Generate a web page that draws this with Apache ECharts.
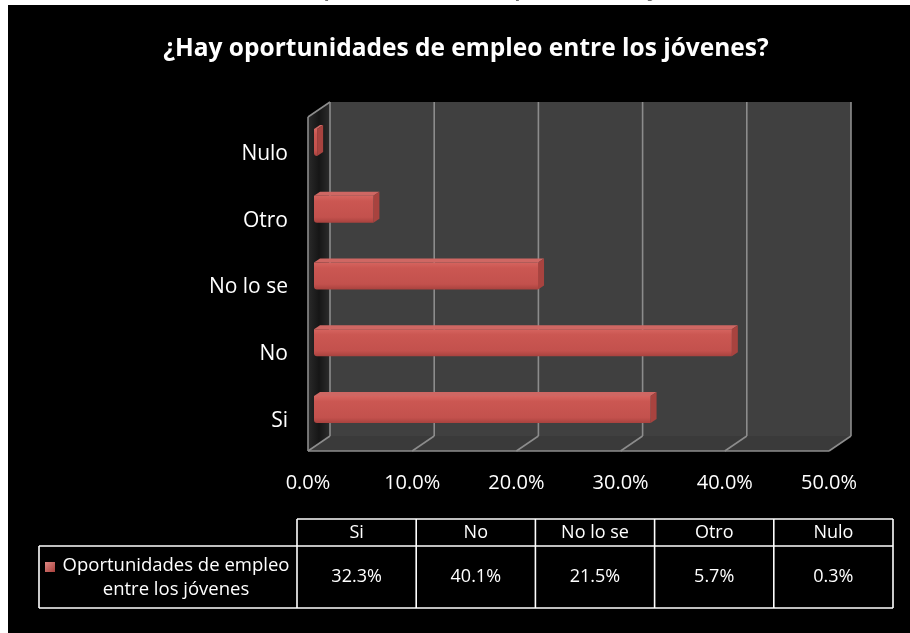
<!DOCTYPE html>
<html>
<head>
<meta charset="utf-8">
<script src="https://cdn.jsdelivr.net/npm/echarts@6/dist/echarts.min.js"></script>
<style>
  html, body { margin: 0; padding: 0; background: #ffffff; }
  #chart { width: 910px; height: 633px; }
</style>
</head>
<body>
<div id="chart"></div>
<script>
// Survey answers and their shares (percent)
const categories = ['Si', 'No', 'No lo se', 'Otro', 'Nulo'];
const values = [32.3, 40.1, 21.5, 5.7, 0.3];
const xTicks = [0, 10, 20, 30, 40, 50];
const seriesName = 'Oportunidades de empleo entre los jóvenes';
const seriesNameLines = ['Oportunidades de empleo', 'entre los jóvenes'];
const titleText = '¿Hay oportunidades de empleo entre los jóvenes?';
const captionText = 'Gráfica 4. Oportunidades de empleo entre los jóvenes';

const FONT = '"Open Sans", "DejaVu Sans", sans-serif';
const pct = v => v.toFixed(1) + '%';

// 3D look: offset of the back wall, of the bar front faces and of the bar depth
const BACK = [22, -15];
const BAR_OFF = [6, -8];
const BAR_H = 27;
const BAR_D = [6, -4];
const GRID_COLOR = '#8c8c8c';

function renderFrame(params, api) {
  const cs = params.coordSys;
  const x0 = api.coord([xTicks[0], 0])[0];
  const x1 = api.coord([xTicks[xTicks.length - 1], 0])[0];
  const yTop = cs.y, yBot = cs.y + cs.height;
  const bx = BACK[0], by = BACK[1];
  const children = [];
  // back wall
  children.push({
    type: 'polygon',
    shape: { points: [[x0 + bx, yTop + by], [x1 + bx, yTop + by], [x1 + bx, yBot + by], [x0 + bx, yBot + by]] },
    style: { fill: '#404040' }
  });
  // floor
  children.push({
    type: 'polygon',
    shape: { points: [[x0, yBot], [x1, yBot], [x1 + bx, yBot + by], [x0 + bx, yBot + by]] },
    style: { fill: '#3a3a3a' }
  });
  // left side wall
  children.push({
    type: 'polygon',
    shape: { points: [[x0, yTop], [x0 + bx, yTop + by], [x0 + bx, yBot + by], [x0, yBot]] },
    style: {
      fill: new echarts.graphic.LinearGradient(0, 0, 1, 0, [
        { offset: 0, color: '#2a2a2a' },
        { offset: 0.5, color: '#161616' },
        { offset: 1, color: '#2c2c2c' }
      ])
    }
  });
  const line = (a, b) => ({
    type: 'line',
    shape: { x1: a[0], y1: a[1], x2: b[0], y2: b[1] },
    style: { stroke: GRID_COLOR, lineWidth: 1.6 }
  });
  xTicks.forEach(t => {
    const x = api.coord([t, 0])[0];
    children.push(line([x + bx, yTop + by], [x + bx, yBot + by]));
    children.push(line([x, yBot], [x + bx, yBot + by]));
  });
  children.push(line([x0, yBot], [x1, yBot]));
  children.push(line([x0, yTop], [x0, yBot]));
  children.push(line([x0, yTop], [x0 + bx, yTop + by]));
  return { type: 'group', children: children };
}

function renderBar(params, api) {
  const idx = api.value(1);
  const p0 = api.coord([0, idx]);
  const p1 = api.coord([api.value(0), idx]);
  const xa = p0[0] + BAR_OFF[0];
  const xb = p1[0] + BAR_OFF[0];
  const yc = p0[1] + BAR_OFF[1];
  const yt = yc - BAR_H / 2, yb = yc + BAR_H / 2;
  const dx = BAR_D[0], dy = BAR_D[1];
  return {
    type: 'group',
    children: [
      {
        type: 'polygon',
        shape: { points: [[xa, yt], [xb, yt], [xb + dx, yt + dy], [xa + dx, yt + dy]] },
        style: { fill: '#cf6763' }
      },
      {
        type: 'polygon',
        shape: { points: [[xb, yt], [xb + dx, yt + dy], [xb + dx, yb + dy], [xb, yb]] },
        style: { fill: '#a8433f' }
      },
      {
        type: 'rect',
        shape: { x: xa, y: yt, width: Math.max(xb - xa, 0.5), height: BAR_H, r: [0, 0, 0, 3] },
        style: {
          fill: new echarts.graphic.LinearGradient(0, 0, 0, 1, [
            { offset: 0, color: '#d6645f' },
            { offset: 0.2, color: '#cb5752' },
            { offset: 0.8, color: '#c3514d' },
            { offset: 1, color: '#a8423e' }
          ])
        }
      }
    ]
  };
}

// Data table under the chart
function buildTable() {
  const left = 39, colStart = 297, colW = 119.2;
  const top = 519, mid = 546, bottom = 608;
  const right = colStart + colW * categories.length;
  const stroke = { stroke: '#ffffff', lineWidth: 1.6 };
  const els = [];
  const hline = (xa, xb, y) => els.push({ type: 'line', shape: { x1: xa, y1: y, x2: xb, y2: y }, style: stroke, z: 10 });
  const vline = (x, ya, yb) => els.push({ type: 'line', shape: { x1: x, y1: ya, x2: x, y2: yb }, style: stroke, z: 10 });
  hline(colStart, right, top);
  hline(left, right, mid);
  hline(left, right, bottom);
  vline(left, mid, bottom);
  for (let i = 0; i <= categories.length; i++) vline(colStart + colW * i, top, bottom);
  categories.forEach((c, i) => {
    const cx = colStart + colW * (i + 0.5);
    els.push({ type: 'text', x: cx, y: (top + mid) / 2, z: 10,
      style: { text: c, fill: '#fff', font: '18px ' + FONT, align: 'center', verticalAlign: 'middle' } });
    els.push({ type: 'text', x: cx, y: (mid + bottom) / 2, z: 10,
      style: { text: pct(values[i]), fill: '#fff', font: '18px ' + FONT, align: 'center', verticalAlign: 'middle' } });
  });
  // legend key
  els.push({ type: 'rect', shape: { x: 45, y: 562, width: 10, height: 10 }, z: 10,
    style: { fill: new echarts.graphic.LinearGradient(0, 0, 1, 1, [
      { offset: 0, color: '#e08985' }, { offset: 1, color: '#a8403c' }]) } });
  seriesNameLines.forEach((t, i) => {
    els.push({ type: 'text', x: 176, y: 566 + i * 24, z: 10,
      style: { text: t, fill: '#fff', font: '18.5px ' + FONT, align: 'center', verticalAlign: 'middle' } });
  });
  return els;
}

const chart = echarts.init(document.getElementById('chart'), null, { renderer: 'canvas' });
chart.setOption({
  backgroundColor: '#ffffff',
  animation: false,
  graphic: [
    { type: 'text', x: 468, y: -19, z: -20,
      style: { text: captionText, fill: '#6e6e6e', font: 'bold 19px ' + FONT, align: 'center', verticalAlign: 'top' } },
    { type: 'rect', shape: { x: 8, y: 5, width: 902, height: 628 }, z: -10, style: { fill: '#000000' } },
    { type: 'text', x: 466, y: 49, z: 10,
      style: { text: titleText, fill: '#ffffff', font: 'bold 24.5px ' + FONT, align: 'center', verticalAlign: 'middle' } }
  ].concat(buildTable()),
  grid: { left: 308, right: 81, top: 117, bottom: 182 },
  xAxis: {
    type: 'value', min: 0, max: 50, interval: 10,
    axisLine: { show: false }, axisTick: { show: false }, splitLine: { show: false },
    axisLabel: { color: '#ffffff', fontSize: 20, fontFamily: FONT, margin: 22, formatter: v => pct(v) }
  },
  yAxis: {
    type: 'category', data: categories,
    axisLine: { show: false }, axisTick: { show: false }, splitLine: { show: false },
    axisLabel: {
      margin: 20,
      formatter: v => '{c|' + v + '}',
      rich: { c: { color: '#ffffff', fontSize: 21, fontFamily: FONT, padding: [7, 0, 0, 0] } }
    }
  },
  series: [
    { type: 'custom', name: 'frame', renderItem: renderFrame, data: [[0, 0]], z: 1, silent: true },
    { type: 'custom', name: seriesName, renderItem: renderBar, z: 2,
      data: values.map((v, i) => [v, i]) }
  ]
});
</script>
</body>
</html>
